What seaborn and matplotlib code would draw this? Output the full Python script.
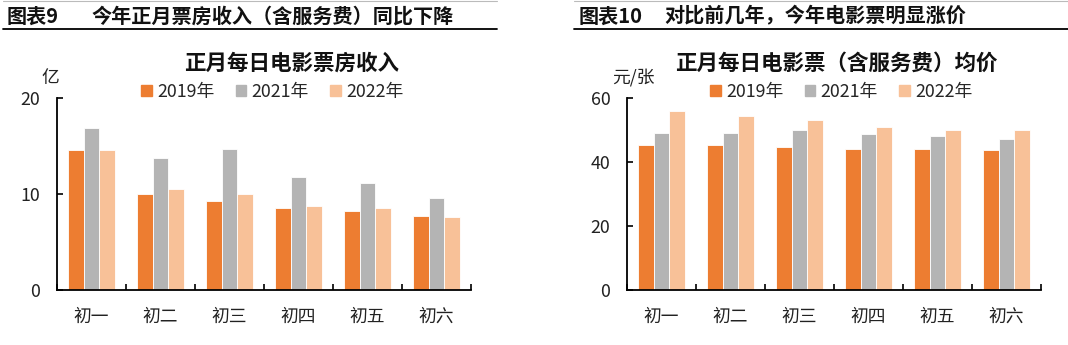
import numpy as np
import pandas as pd
import matplotlib
matplotlib.use("Agg")
import matplotlib.pyplot as plt
import seaborn as sns

sns.set_theme(style="white")
plt.rcParams['font.family'] = ['Noto Sans CJK SC', 'DejaVu Sans']

days = ["初一", "初二", "初三", "初四", "初五", "初六"]
years = ["2019年", "2021年", "2022年"]
box_2019 = [14.6, 10.0, 9.3, 8.5, 8.2, 7.7]
box_2021 = [16.8, 13.7, 14.7, 11.8, 11.1, 9.6]
box_2022 = [14.6, 10.5, 10.0, 8.7, 8.5, 7.6]
price_2019 = [45.1, 45.1, 44.6, 44.1, 44.1, 43.7]
price_2021 = [49.1, 49.1, 50.0, 48.6, 48.0, 47.1]
price_2022 = [55.8, 54.4, 52.9, 51.0, 50.0, 50.0]

colors = ["#ED7D31", "#B4B4B4", "#F8C198"]

def make_df(a, b, c):
    rows = []
    for yr, vals in zip(years, [a, b, c]):
        for d, v in zip(days, vals):
            rows.append({"day": d, "year": yr, "value": v})
    return pd.DataFrame(rows)

df_box = make_df(box_2019, box_2021, box_2022)
df_price = make_df(price_2019, price_2021, price_2022)

W, H = 1068, 345
fig = plt.figure(figsize=(W / 100, H / 100), dpi=100)

def fx(px):
    return px / W

def fy(py):
    return 1 - py / H

def draw(ax, df, ymax, yticks, title, unit, unit_x, title_x, leg_x):
    sns.barplot(data=df, x="day", y="value", hue="year", palette=colors,
                width=0.67, edgecolor="white", linewidth=0.6, ax=ax,
                legend=False, saturation=1)
    ax.set_xlim(-0.5, 5.5)
    ax.set_ylim(0, ymax)
    ax.set_yticks(yticks)
    ax.set_xlabel("")
    ax.set_ylabel("")
    for s in ["top", "right"]:
        ax.spines[s].set_visible(False)
    for s in ["left", "bottom"]:
        ax.spines[s].set_color("black")
        ax.spines[s].set_linewidth(1.3)
    ax.set_xticks(range(len(days)))
    ax.set_xticklabels(days)
    ax.set_xticks(np.arange(-0.5, 6, 1), minor=True)
    ax.tick_params(axis="x", which="major", length=0, pad=13, labelsize=12.8, colors="#222222")
    ax.tick_params(axis="x", which="minor", length=4, width=1.2, direction="in", color="black", bottom=True)
    ax.tick_params(axis="y", which="major", length=4, width=1.2, direction="in", pad=12,
                   labelsize=12.8, colors="#222222", left=True)
    ax.tick_params(axis="y", colors="black", labelcolor="#222222")
    ax.grid(False)
    fig.text(fx(title_x), fy(63), title, ha="center", va="center",
             fontsize=15.5, fontweight="bold", color="#111111")
    fig.text(fx(unit_x), fy(78), unit, ha="center", va="center",
             fontsize=12.8, color="#222222")
    handles = [plt.Rectangle((0, 0), 1, 1, color=c) for c in colors]
    fig.legend(handles, years, loc="center left", bbox_to_anchor=(fx(leg_x), fy(92)),
               ncol=3, frameon=False, fontsize=12.8, handlelength=0.6, handleheight=0.6,
               handletextpad=0.3, columnspacing=1.2, borderaxespad=0, borderpad=0)

ax1 = fig.add_axes([fx(57), fy(290), fx(414), 192.3 / H])
draw(ax1, df_box, 20, [0, 10, 20], "正月每日电影票房收入", "亿", 50, 292, 141)

ax2 = fig.add_axes([fx(627), fy(290), fx(414), 192.3 / H])
draw(ax2, df_price, 60, [0, 20, 40, 60], "正月每日电影票（含服务费）均价", "元/张", 633, 836, 710)

# headers
hs = 14.5
fig.text(fx(7), fy(16), "图表9", ha="left", va="center", fontsize=hs, fontweight="bold", color="#111111")
fig.text(fx(92), fy(16), "今年正月票房收入（含服务费）同比下降", ha="left", va="center",
         fontsize=hs, fontweight="bold", color="#111111")
fig.text(fx(579), fy(16), "图表10", ha="left", va="center", fontsize=hs, fontweight="bold", color="#111111")
fig.text(fx(664), fy(16), "对比前几年，今年电影票明显涨价", ha="left", va="center",
         fontsize=hs, fontweight="bold", color="#111111")
fig.add_artist(plt.Line2D([fx(3), fx(497)], [fy(29), fy(29)], color="black", linewidth=1.3))
fig.add_artist(plt.Line2D([fx(574), fx(1068)], [fy(29), fy(29)], color="black", linewidth=1.3))
fig.add_artist(plt.Line2D([fx(3), fx(497)], [fy(0.5), fy(0.5)], color="#BBBBBB", linewidth=0.8))
fig.add_artist(plt.Line2D([fx(574), fx(1068)], [fy(0.5), fy(0.5)], color="#BBBBBB", linewidth=0.8))

fig.savefig("out.png", dpi=100)
